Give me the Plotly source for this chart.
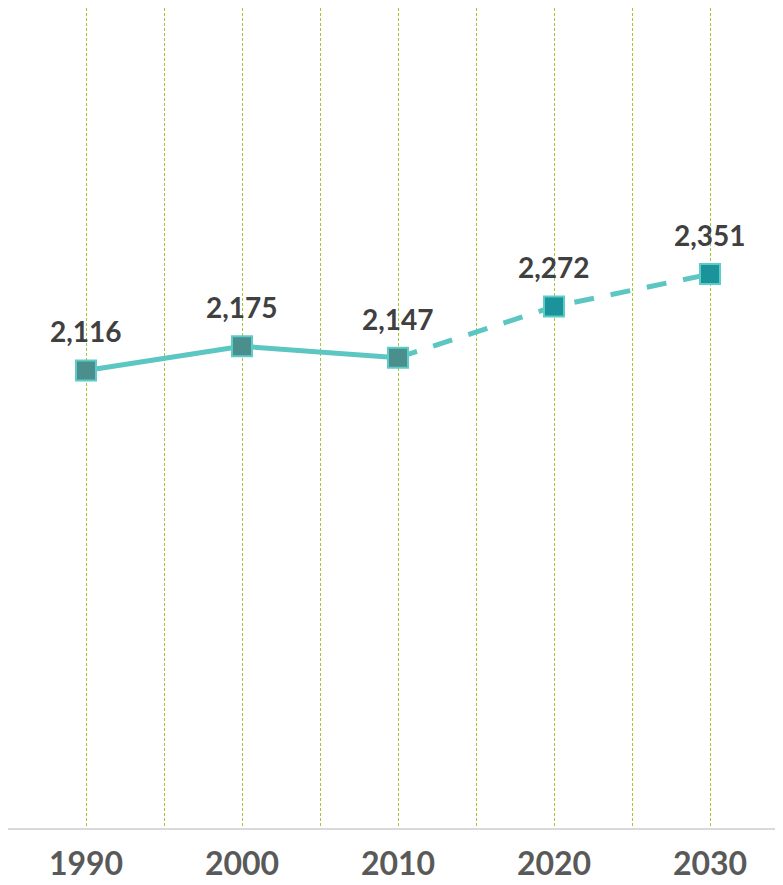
import plotly.graph_objects as go

years = ["1990", "2000", "2010", "2020", "2030"]
values = [2116, 2175, 2147, 2272, 2351]
actual_idx = [0, 1, 2]
proj_idx = [2, 3, 4]

line_color = "#5CC6C2"
actual_fill = "#4A8F8D"
proj_fill = "#1A939B"
border = "#5DCBC6"
grid_color = "#A4C536"

xpos = list(range(len(years)))

fig = go.Figure()
fig.add_trace(go.Scatter(
    x=[xpos[i] for i in actual_idx], y=[values[i] for i in actual_idx],
    mode="lines", line=dict(color=line_color, width=5), hoverinfo="skip"))
fig.add_trace(go.Scatter(
    x=[xpos[i] for i in proj_idx], y=[values[i] for i in proj_idx],
    mode="lines", line=dict(color=line_color, width=5, dash="20px,17px"), hoverinfo="skip"))
fig.add_trace(go.Scatter(
    x=[xpos[i] for i in actual_idx], y=[values[i] for i in actual_idx],
    mode="markers",
    marker=dict(symbol="square", size=20, color=actual_fill, line=dict(color=border, width=2))))
fig.add_trace(go.Scatter(
    x=[xpos[i] for i in proj_idx[1:]], y=[values[i] for i in proj_idx[1:]],
    mode="markers",
    marker=dict(symbol="square", size=20, color=proj_fill, line=dict(color=border, width=2))))

for xi, v in zip(xpos, values):
    fig.add_annotation(x=xi, y=v, text=f"{v:,}", showarrow=False, yshift=39,
                       font=dict(family="Lato", size=28, color="#404040", weight="bold"))

tickvals = [i * 0.5 - 0.5 for i in range(11)]
ticktext = [years[int(t)] if float(t).is_integer() and 0 <= t < len(years) else "" for t in tickvals]

fig.update_layout(
    width=775, height=877,
    margin=dict(l=0, r=0, t=0, b=57, autoexpand=False),
    plot_bgcolor="white", paper_bgcolor="white",
    showlegend=False,
    xaxis=dict(range=[-0.5, (783 - 86) / 156], tickvals=tickvals, ticktext=ticktext,
               showgrid=True, gridcolor=grid_color, gridwidth=1, griddash="3px,2px",
               showline=True, linecolor="#D9D9D9", linewidth=2, zeroline=False,
               ticks="", ticklabelstandoff=7, automargin=False,
               tickfont=dict(family="Lato", size=32, color="#595959", weight="bold"),
               fixedrange=True),
    yaxis=dict(range=[1000, 3000], visible=False, showgrid=False, zeroline=False,
               automargin=False),
)

fig.write_html("out.html")
